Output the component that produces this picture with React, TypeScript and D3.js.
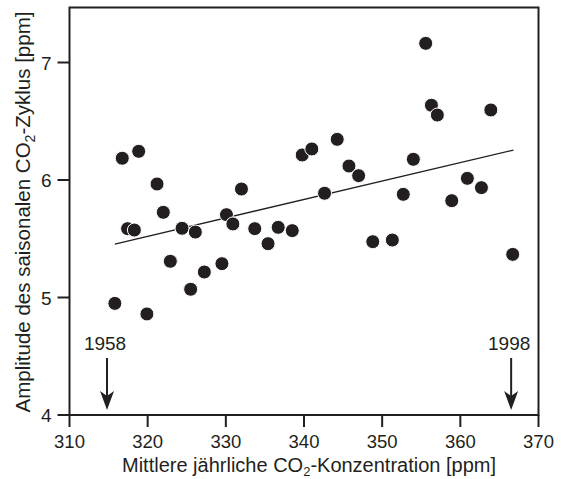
import React from "react";
import * as d3 from "d3";

const co2: number[] = [315.8, 316.75, 317.43, 318.3, 318.85, 319.9, 321.2, 322.0, 322.9, 324.4, 325.5, 326.1, 327.25, 329.5, 330.08, 330.9, 332.0, 333.7, 335.4, 336.7, 338.5, 339.77, 341.0, 342.63, 344.25, 345.75, 346.99, 348.8, 351.3, 352.7, 353.99, 355.57, 356.3, 357.06, 358.9, 360.9, 362.7, 363.9, 366.7];
const amplitude: number[] = [4.95, 6.185, 5.586, 5.574, 6.244, 4.86, 5.966, 5.725, 5.308, 5.589, 5.07, 5.557, 5.217, 5.288, 5.705, 5.626, 5.923, 5.586, 5.458, 5.597, 5.569, 6.213, 6.264, 5.887, 6.346, 6.119, 6.037, 5.475, 5.489, 5.878, 6.176, 7.163, 6.636, 6.553, 5.824, 6.014, 5.935, 6.596, 5.367];
const trendX: number[] = [315.8, 366.8];
const trendY: number[] = [5.455, 6.255];
const xTicks: number[] = [310, 320, 330, 340, 350, 360, 370];
const yTicks: number[] = [4, 5, 6, 7];
const markerYears: string[] = ["1958", "1998"];
const markerX: number[] = [314.8, 366.5];

export default function App() {
  const W = 561, H = 479;
  const left = 69.5, right = 538.5, top = 7.5, bottom = 415;
  const x = d3.scaleLinear().domain([310, 370]).range([left, right]);
  const y = d3.scaleLinear().domain([4, 7]).range([bottom, 62.5]);
  const ink = "#231f20";
  const font = "'Liberation Sans', Arial, Helvetica, sans-serif";
  const line = d3.line<[number, number]>().x(d => x(d[0])).y(d => y(d[1]));
  const trend: [number, number][] = trendX.map((v, i) => [v, trendY[i]]);

  return (
    <svg width={W} height={H} style={{ position: "absolute", left: 0, top: 0 }} fontFamily={font}>
      <rect x={0} y={0} width={W} height={H} fill="white" />
      <path d={`M${left},${top}H${right}V${bottom}H${left}Z`} fill="none" stroke={ink} strokeWidth={2} />
      {xTicks.map(t => (
        <g key={"x" + t}>
          <line x1={x(t)} x2={x(t)} y1={bottom} y2={bottom + 12} stroke={ink} strokeWidth={2} />
          <text x={x(t)} y={bottom + 33} textAnchor="middle" fontSize={18.5} fill={ink}>{t}</text>
        </g>
      ))}
      {yTicks.map(t => (
        <g key={"y" + t}>
          <line x1={left - 12} x2={left} y1={y(t)} y2={y(t)} stroke={ink} strokeWidth={2} />
          <text x={left - 18} y={y(t) + 7} textAnchor="end" fontSize={19} fill={ink}>{t}</text>
        </g>
      ))}
      <path d={line(trend) || ""} fill="none" stroke={ink} strokeWidth={1.3} />
      {co2.map((v, i) => (
        <circle key={i} cx={x(v)} cy={y(amplitude[i])} r={7} fill={ink} stroke="white" strokeWidth={1} />
      ))}
      {markerX.map((mx, i) => {
        const px = x(mx);
        return (
          <g key={"m" + i}>
            <text x={px - 2} y={350} textAnchor="middle" fontSize={19} fill={ink}>{markerYears[i]}</text>
            <line x1={px} x2={px} y1={358} y2={398} stroke={ink} strokeWidth={2} />
            <path d={`M${px},${410} L${px - 7},${391} L${px},${396} L${px + 7},${391} Z`} fill={ink} />
          </g>
        );
      })}
      <text x={309} y={472} textAnchor="middle" fontSize={20} fill={ink}>
        Mittlere jährliche CO<tspan fontSize={13} dy={3.5}>2</tspan><tspan dy={-3.5}>-Konzentration [ppm]</tspan>
      </text>
      <text transform={`translate(30,212) rotate(-90)`} textAnchor="middle" fontSize={20.5} fill={ink}>
        Amplitude des saisonalen CO<tspan fontSize={14} dy={5}>2</tspan><tspan dy={-5}>-Zyklus [ppm]</tspan>
      </text>
    </svg>
  );
}
